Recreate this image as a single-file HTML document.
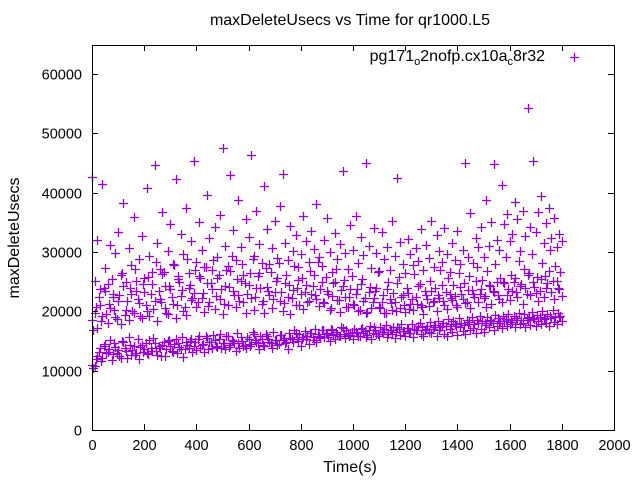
<!DOCTYPE html>
<html><head><meta charset="utf-8"><style>
html,body{margin:0;padding:0;background:#fff}
svg{display:block;font-family:"Liberation Sans",sans-serif}
</style></head><body>
<svg id="chart" width="640" height="480">
<rect x="0" y="0" width="640" height="480" fill="#fff"/>
<text x="350" y="25" text-anchor="middle" font-size="16">maxDeleteUsecs vs Time for qr1000.L5</text>
<g id="marks"></g>
<g id="axes"></g>
<text x="0" y="0" transform="translate(19,238) rotate(-90)" text-anchor="middle" font-size="16">maxDeleteUsecs</text>
<text x="350" y="472" text-anchor="middle" font-size="16">Time(s)</text>
<g>
<text x="545" y="61" text-anchor="end" font-size="16">pg171<tspan font-size="11" dy="4">o</tspan><tspan dy="-4">2nofp.cx10a</tspan><tspan font-size="11" dy="4">c</tspan><tspan dy="-4">8r32</tspan></text>
<path d="M570 57.5h9M574.5 53v9" stroke="#9400d3" stroke-width="1.3"/>
</g>
</svg>
<script>
const xTicks=[0,200,400,600,800,1000,1200,1400,1600,1800,2000];
const yTicks=[0,10000,20000,30000,40000,50000,60000];
const timeStep=10;
const lowVals=[11.0,10.8,12.5,13.8,12.2,14.5,13.1,15.2,12.8,14.0,13.5,12.1,14.8,13.3,15.6,12.6,14.2,13.0,11.9,14.4,13.7,12.9,15.1,13.4,14.6,12.7,13.9,14.3,12.4,15.0,14.1,13.2,15.4,14.7,13.6,12.3,14.9,13.8,15.3,14.2,13.5,15.8,14.4,13.1,15.5,14.8,13.9,15.2,14.0,16.1,14.6,13.7,15.9,14.3,15.0,13.4,14.7,15.6,14.1,13.8,15.3,14.5,16.2,14.9,13.6,15.4,14.2,15.8,14.8,13.9,15.1,14.4,16.0,15.2,14.6,13.7,15.5,14.9,16.3,15.0,14.1,15.7,15.3,14.5,16.4,15.1,14.8,15.9,16.8,15.6,16.2,15.0,16.9,15.4,16.1,15.8,17.2,15.5,16.4,16.0,15.3,16.6,15.9,17.0,16.3,15.7,16.8,15.4,17.3,16.1,15.8,16.5,17.1,15.6,16.9,16.2,15.5,17.4,16.0,16.7,15.9,17.2,16.4,15.7,16.8,17.5,16.1,15.8,17.0,16.6,16.3,17.3,15.9,16.9,17.6,16.2,15.8,17.1,16.5,17.8,16.0,17.4,16.7,16.1,17.9,16.8,17.2,16.4,18.1,17.0,16.6,17.7,17.3,18.3,16.9,17.6,18.0,17.2,18.4,17.5,17.9,18.2,17.4,18.6,17.8,18.0,17.3,18.5,17.7,18.8,17.6,18.3,17.9,18.7,18.1,17.5,18.9,18.2,17.8,19.0,18.4];
const midVals=[18.5,19.8,17.2,21.0,19.3,23.5,18.0,20.6,22.4,19.1,21.8,17.9,24.2,20.3,18.6,22.9,19.7,25.1,21.4,18.8,23.3,20.0,19.2,24.6,21.7,18.4,22.1,26.3,20.5,19.6,23.8,21.2,18.9,25.4,22.6,20.1,19.4,24.0,21.9,23.1,20.7,26.0,22.3,19.9,24.8,21.5,23.7,20.4,25.6,22.0,19.5,24.3,21.1,26.8,23.4,20.8,22.7,25.2,21.6,19.8,24.5,22.2,20.2,23.9,26.5,21.3,19.7,24.1,22.8,20.6,23.2,25.7,21.8,20.0,24.7,22.5,19.6,23.6,21.0,25.3,22.9,20.4,24.4,21.7,23.0,26.1,22.1,20.9,24.9,21.4,23.5,20.3,22.6,25.0,21.9,19.9,24.2,22.4,20.7,23.8,21.2,22.9,20.1,24.6,21.8,19.7,23.3,20.5,22.2,24.0,20.8,21.6,19.8,23.7,22.0,20.3,21.5,24.8,20.6,22.7,19.9,23.1,21.3,20.2,22.5,24.3,21.0,19.6,22.8,20.9,23.4,21.7,20.0,22.3,24.5,21.1,20.4,23.0,21.9,22.6,20.7,24.1,22.1,21.4,23.6,20.5,22.9,25.2,21.6,23.8,22.3,20.8,24.4,21.2,23.2,25.0,22.0,21.5,24.7,22.8,21.9,23.5,25.6,22.4,24.2,21.3,23.9,26.2,22.7,24.9,23.1,21.8,25.4,22.5,24.0,26.8,23.3,22.1,25.1,23.7,22.6];
const highVals=[42.7,25.2,32.0,23.8,41.5,27.3,24.6,31.2,22.9,29.8,33.4,26.1,38.2,24.9,30.6,27.8,35.9,23.5,28.9,32.7,25.7,40.8,29.3,26.6,44.6,31.5,27.1,36.7,24.3,30.1,34.8,28.0,42.3,25.9,33.0,29.6,37.5,26.4,31.8,45.4,28.3,35.1,30.4,27.5,39.6,32.3,26.9,34.2,29.1,36.3,47.5,31.0,27.6,43.0,33.7,28.7,38.8,30.9,26.2,35.5,32.6,46.3,29.4,36.9,31.3,28.1,41.2,33.9,27.9,30.7,35.2,29.0,37.8,43.2,31.6,28.6,34.4,30.2,32.9,27.4,29.7,36.1,31.9,28.4,33.5,30.5,38.1,29.2,27.7,32.1,35.8,30.0,26.7,33.2,28.8,31.4,43.6,29.9,27.2,34.6,30.3,36.0,28.2,32.5,29.5,45.0,31.1,27.3,34.0,29.8,26.8,33.3,28.9,30.8,27.0,35.3,29.3,42.5,31.7,28.0,26.5,32.2,29.6,27.8,30.6,28.5,33.8,26.9,31.2,29.0,35.3,27.5,32.8,30.1,28.3,34.1,29.7,26.6,31.5,28.7,33.6,27.9,30.4,45.0,29.2,36.6,28.1,32.4,30.9,34.3,29.1,38.8,31.0,35.0,44.8,32.0,30.3,41.3,34.7,36.4,31.9,33.1,38.5,35.6,30.2,37.0,32.7,54.2,34.2,45.3,33.4,36.8,39.5,31.6,34.9,37.4,32.3,35.7,30.8,33.0,31.8];
const lowVals2=[10.5,12.0,13.2,11.6,14.1,12.9,13.6,11.8,14.7,13.0,12.4,15.0,13.8,12.2,14.3,13.5,12.6,15.3,14.0,13.1,14.6,12.8,13.9,15.5,13.3,14.2,12.5,14.8,13.7,15.1,13.4,14.5,12.9,14.0,15.7,13.6,14.3,15.0,13.2,14.8,15.4,13.9,14.5,15.8,13.7,14.9,16.0,14.2,15.3,13.8,14.6,15.9,14.0,15.2,14.7,16.3,13.9,15.0,14.4,15.6,14.1,16.5,15.1,14.6,15.8,14.3,16.1,15.4,14.7,16.6,15.2,14.5,16.0,15.5,14.8,16.4,15.3,16.9,15.7,16.2,15.4,16.7,15.9,16.3,15.6,17.0,16.1,15.5,16.8,16.4,15.7,17.1,16.0,16.6,15.8,17.3,16.2,16.9,15.9,16.5,17.0,16.3,15.9,17.2,16.7,16.0,17.5,16.4,16.9,16.1,17.3,16.6,17.7,16.2,16.8,17.4,16.5,17.0,17.9,16.7,17.2,16.4,17.8,17.1,16.9,18.0,17.3,16.8,17.6,18.2,17.0,17.7,18.4,17.4,18.1,17.6,18.7,17.8,18.3,17.5,18.9,18.0,17.7,18.6,18.2,19.1,17.9,18.5,19.3,18.4,18.0,19.0,18.6,18.1,19.4,18.8,18.3,19.2,18.7,19.6,18.5,19.3,18.9,19.8,18.6,19.5,18.8,19.1,19.9,18.7,19.4,19.0,20.1,18.9,19.6,19.2,20.3,19.0,19.7,19.3];
const midVals2=[16.9,20.8,22.5,18.3,24.0,19.6,21.3,25.4,20.2,18.7,22.8,26.5,19.4,21.7,23.9,20.0,27.2,22.1,19.2,24.6,21.0,25.8,22.9,20.4,28.3,23.4,21.6,26.6,19.8,24.3,22.5,27.8,21.1,25.0,23.6,20.7,28.9,24.4,22.3,26.9,21.5,25.7,23.1,27.4,20.9,24.8,28.6,22.6,26.1,23.8,21.3,27.0,24.1,29.4,22.8,25.5,21.7,27.9,24.7,23.0,26.4,28.8,22.4,25.9,24.0,21.8,27.3,23.5,26.7,22.0,25.1,28.1,23.3,21.4,26.2,24.5,22.2,27.6,23.9,21.0,25.6,23.2,21.5,26.8,24.3,22.7,28.4,23.7,21.6,25.8,22.9,20.6,24.8,27.1,21.9,23.6,25.3,20.8,22.4,26.0,21.1,23.8,20.2,25.5,22.3,19.9,24.1,21.6,23.4,26.7,20.5,22.8,19.7,24.9,21.4,23.1,20.0,25.8,22.5,21.0,23.9,20.4,22.1,26.3,21.2,24.6,20.7,23.5,22.0,25.1,21.5,24.0,22.7,27.0,21.8,23.3,25.7,22.2,24.4,21.0,26.5,22.9,24.7,21.6,25.9,23.6,22.4,27.5,23.0,25.3,22.6,26.8,24.2,23.4,28.0,22.8,25.6,24.9,29.1,23.7,26.1,25.0,23.2,28.5,24.6,27.2,22.9,26.4,29.6,24.1,25.8,23.5,28.2,26.0,24.8,30.4,25.2,27.7,23.9,26.6];

const L=92,R=614,T=45,B=430,XMAX=2000,YMAX=64900;
const xs=v=>L+v/XMAX*(R-L);
const ys=v=>B-v/YMAX*(B-T);
const NS='http://www.w3.org/2000/svg';
const marks=document.getElementById('marks');
const axes=document.getElementById('axes');
function plotSeries(arr,offset){
  arr.forEach((v,i)=>{
    const x=Math.round(xs(i*timeStep+offset))+0.5,y=Math.round(ys(v*1000))+0.5;
    const p=document.createElementNS(NS,'path');
    p.setAttribute('d',`M${x-4.5} ${y}h9M${x} ${y-4.5}v9`);
    p.setAttribute('stroke','#9400d3');p.setAttribute('stroke-width','1.3');p.setAttribute('fill','none');
    
    
    marks.appendChild(p);
  });
}
plotSeries(lowVals,0);plotSeries(midVals,0);plotSeries(highVals,0);
plotSeries(lowVals2,5);plotSeries(midVals2,5);
const frame=document.createElementNS(NS,'rect');
frame.setAttribute('x',L+0.5);frame.setAttribute('y',T+0.5);frame.setAttribute('width',R-L);frame.setAttribute('height',B-T);
frame.setAttribute('fill','none');frame.setAttribute('stroke','#000');


axes.appendChild(frame);
xTicks.forEach(t=>{
  const x=Math.round(xs(t))+0.5;
  const p=document.createElementNS(NS,'path');
  p.setAttribute('d',`M${x} ${B}v-6M${x} ${T}v6`);p.setAttribute('stroke','#000');
  
  
  axes.appendChild(p);
  const tx=document.createElementNS(NS,'text');
  tx.setAttribute('x',x);tx.setAttribute('y',B+20);tx.setAttribute('text-anchor','middle');tx.setAttribute('font-size','14.5');
  tx.textContent=t;
  
  
  axes.appendChild(tx);
});
yTicks.forEach(t=>{
  const y=Math.round(ys(t))+0.5;
  const p=document.createElementNS(NS,'path');
  p.setAttribute('d',`M${L} ${y}h6M${R} ${y}h-6`);p.setAttribute('stroke','#000');
  
  
  axes.appendChild(p);
  const tx=document.createElementNS(NS,'text');
  tx.setAttribute('x',L-10);tx.setAttribute('y',y+5);tx.setAttribute('text-anchor','end');tx.setAttribute('font-size','14.5');
  tx.textContent=t;
  
  
  axes.appendChild(tx);
});
</script>
</body></html>
